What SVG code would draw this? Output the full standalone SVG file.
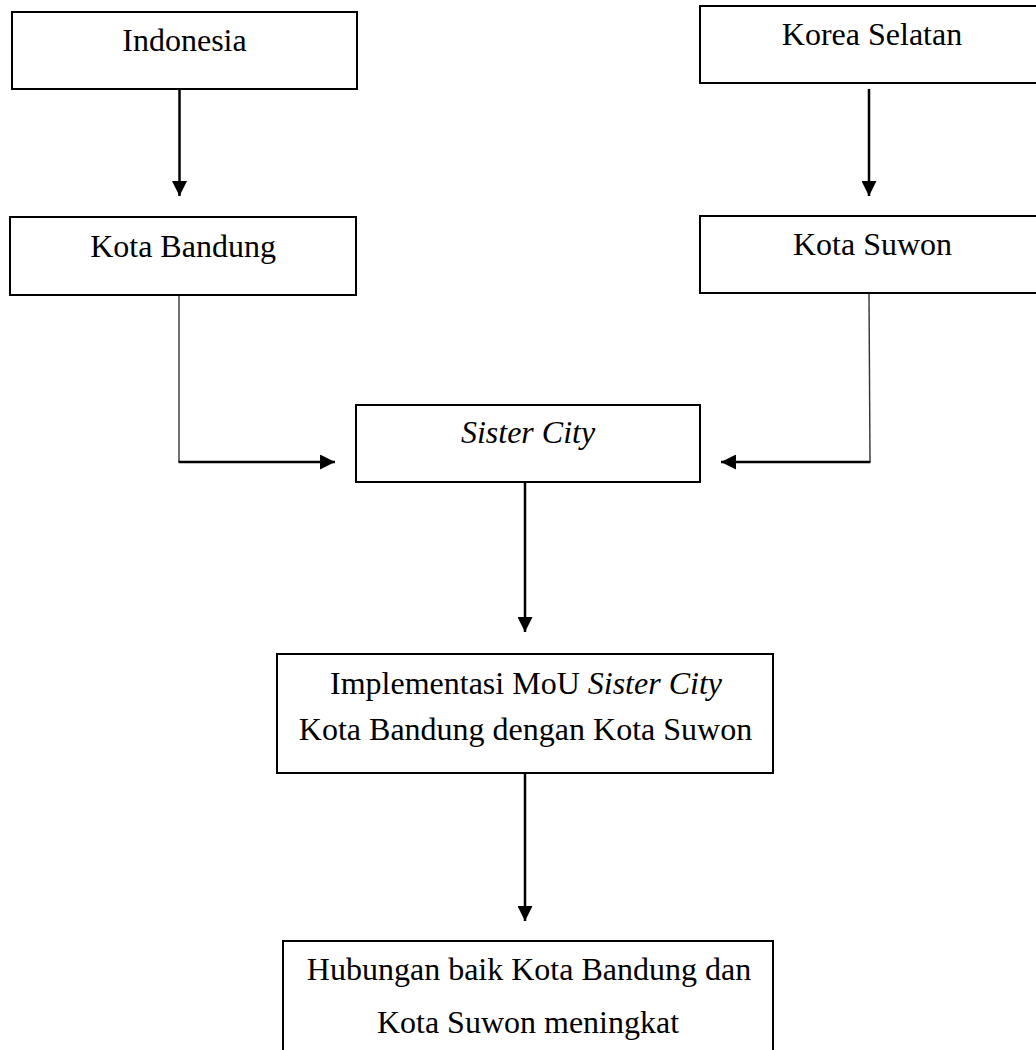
<svg xmlns="http://www.w3.org/2000/svg" width="1036" height="1050" viewBox="0 0 1036 1050">
  <style>
    .box { fill: #fff; stroke: #000; stroke-width: 2; }
    .lbl { font-family: "Liberation Serif", "Times New Roman", serif; font-size: 32px; fill: #000; text-anchor: middle; }
    .it { font-style: italic; }
    .thick { fill: none; stroke: #000; stroke-width: 2.5; }
    .thin { fill: none; stroke: #333; stroke-width: 1.4; }
  </style>
  <defs>
    <marker id="arrow" viewBox="0 0 15 15" refX="15" refY="7.5" markerWidth="15" markerHeight="15" markerUnits="userSpaceOnUse" orient="auto">
      <path d="M0,0 L15,7.5 L0,15 z" fill="#000"/>
    </marker>
  </defs>
  <rect width="1036" height="1050" fill="#fff"/>

  <g id="connectors">
    <line class="thick" x1="179.5" y1="89" x2="179.5" y2="196" marker-end="url(#arrow)"/>
    <line class="thick" x1="869" y1="89" x2="869" y2="196" marker-end="url(#arrow)"/>
    <line class="thin" x1="179" y1="295" x2="179" y2="462"/>
    <line class="thick" x1="178.5" y1="462" x2="335" y2="462" marker-end="url(#arrow)"/>
    <line class="thin" x1="869" y1="293" x2="870" y2="462"/>
    <line class="thick" x1="870.5" y1="462" x2="721" y2="462" marker-end="url(#arrow)"/>
    <line class="thick" x1="525" y1="482" x2="525" y2="632" marker-end="url(#arrow)"/>
    <line class="thick" x1="525" y1="773" x2="525" y2="921" marker-end="url(#arrow)"/>
  </g>

  <g id="indonesia">
    <rect class="box" x="12" y="12" width="345" height="77"/>
    <text class="lbl" x="184.5" y="51">Indonesia</text>
  </g>
  <g id="korea-selatan">
    <rect class="box" x="700" y="6" width="345" height="77"/>
    <text class="lbl" x="872" y="45">Korea Selatan</text>
  </g>
  <g id="kota-bandung">
    <rect class="box" x="10" y="217" width="346" height="78"/>
    <text class="lbl" x="183" y="257">Kota Bandung</text>
  </g>
  <g id="kota-suwon">
    <rect class="box" x="700" y="216" width="345" height="77"/>
    <text class="lbl" x="872.5" y="255">Kota Suwon</text>
  </g>
  <g id="sister-city">
    <rect class="box" x="356" y="405" width="344" height="77"/>
    <text class="lbl it" x="528" y="443">Sister City</text>
  </g>
  <g id="implementasi">
    <rect class="box" x="277" y="654" width="496" height="119"/>
    <text class="lbl" x="526" y="694">Implementasi MoU <tspan class="it">Sister City</tspan></text>
    <text class="lbl" x="525.5" y="740">Kota Bandung dengan Kota Suwon</text>
  </g>
  <g id="hubungan">
    <rect class="box" x="283" y="941" width="490" height="130"/>
    <text class="lbl" x="529" y="980">Hubungan baik Kota Bandung dan</text>
    <text class="lbl" x="528" y="1033">Kota Suwon meningkat</text>
  </g>
</svg>
